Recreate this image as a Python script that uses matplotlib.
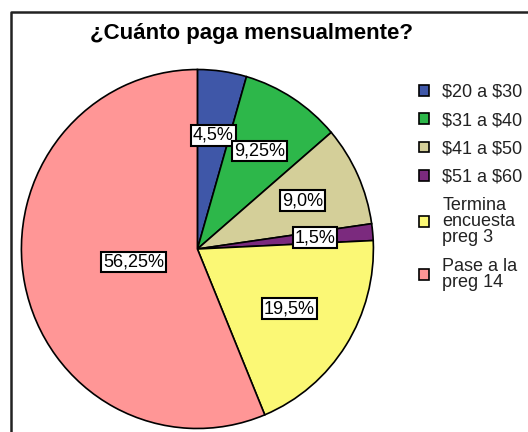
import matplotlib.pyplot as plt
from matplotlib.lines import Line2D
import numpy as np

plt.rcParams['font.family'] = ['Liberation Sans', 'DejaVu Sans']

# data
title = '¿Cuánto paga mensualmente?'
categories = ['$20 a $30', '$31 a $40', '$41 a $50', '$51 a $60',
              'Termina\nencuesta\npreg 3', 'Pase a la\npreg 14']
percents = [4.5, 9.25, 9.0, 1.5, 19.5, 56.25]
pct_labels = ['4,5%', '9,25%', '9,0%', '1,5%', '19,5%', '56,25%']
colors = ['#3f57a8', '#2db74a', '#d4cf99', '#7b2a7e', '#fbf875', '#ff9696']

# where the % boxes sit, as a fraction of the radius
label_dist = [0.64, 0.65, 0.655, 0.67, 0.62, 0.37]

W, H = 528, 432
fig = plt.figure(figsize=(W / 100, H / 100), dpi=100)
ax = fig.add_axes([0, 0, 1, 1])

wedges, _ = ax.pie(percents, colors=colors, startangle=90, counterclock=False,
                   wedgeprops=dict(edgecolor='black', linewidth=1.2), frame=True)

# pie centre / radius in pixels (slightly taller than wide, as in the original)
cx, cy, rx, ry = 197.4, 249, 176, 179.5
ax.set_aspect('auto')
ax.set_xlim(-cx / rx, (W - cx) / rx)
ax.set_ylim(-(H - cy) / ry, cy / ry)
ax.axis('off')

for w, lab, d in zip(wedges, pct_labels, label_dist):
    ang = np.deg2rad((w.theta1 + w.theta2) / 2)
    ax.text(d * np.cos(ang), d * np.sin(ang), lab, ha='center', va='center',
            fontsize=13,
            bbox=dict(boxstyle='square,pad=0.1', fc='white', ec='black', lw=1.5))

fig.text(251 / W, 1 - 34 / H, title, ha='center', va='center',
         fontsize=16, fontweight='bold')

leg = fig.legend(handles=wedges, labels=[c.replace('$', r'\$') for c in categories],
                 loc='upper left', bbox_to_anchor=(419 / W, 1 - 84 / H),
                 frameon=False, fontsize=13, handlelength=0.55, handleheight=0.55,
                 handletextpad=0.75, labelspacing=0.62, borderpad=0, borderaxespad=0)
for t in leg.get_texts():
    t.set_linespacing(0.95)
    t.set_color('#222222')

# outer frame (only left and top edges visible)
fig.add_artist(Line2D([10.5 / W, 10.5 / W, 1], [0, 1 - 12 / H, 1 - 12 / H],
                      transform=fig.transFigure, color='#222222', lw=1.8))

fig.savefig('out.png', dpi=100)
